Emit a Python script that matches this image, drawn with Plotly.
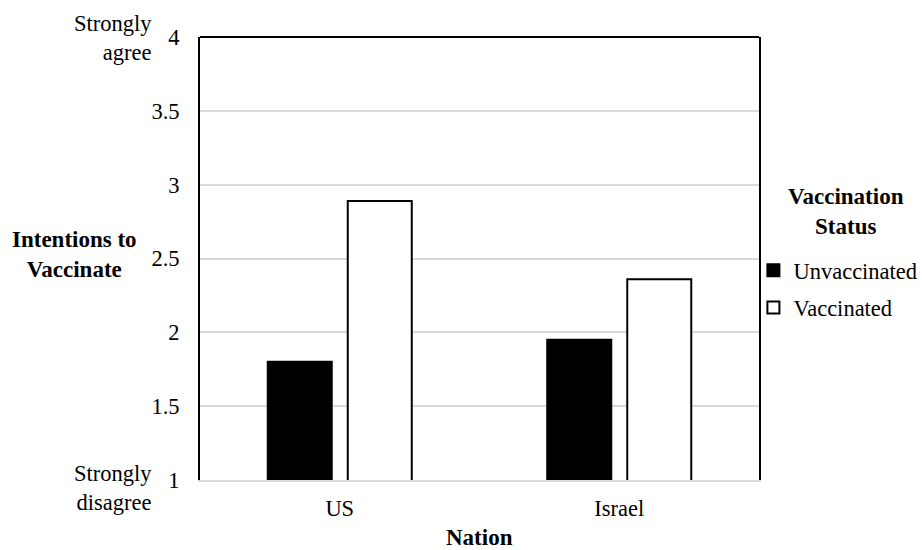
import plotly.graph_objects as go

# Mean intention-to-vaccinate scores by nation and vaccination status
nations = ["US", "Israel"]
unvaccinated = [1.80, 1.95]
vaccinated = [2.89, 2.36]

y_ticks = [1, 1.5, 2, 2.5, 3, 3.5, 4]
y_tick_labels = ["1", "1.5", "2", "2.5", "3", "3.5", "4"]

FONT = "Liberation Serif"
SIZE = 22.5
BOLD_SIZE = 23

fig = go.Figure()
fig.add_trace(go.Bar(
    x=nations, y=unvaccinated, name="Unvaccinated", legendgroup="u",
    marker=dict(color="black", line=dict(color="black", width=2)),
))
fig.add_trace(go.Bar(
    x=nations, y=vaccinated, name="Vaccinated", legendgroup="v",
    marker=dict(color="white", line=dict(color="black", width=2)),
))

fig.update_layout(
    width=922, height=550,
    margin=dict(l=200, r=163, t=37, b=70, autoexpand=False),
    paper_bgcolor="white", plot_bgcolor="white",
    font=dict(family=FONT, size=SIZE, color="black"),
    barmode="group", bargap=0.4275, bargroupgap=0.2,
    showlegend=True,
    legend=dict(
        x=0.99, xanchor="left", y=0.521, yanchor="top",
        bgcolor="rgba(0,0,0,0)",
        font=dict(family=FONT, size=SIZE), tracegroupgap=5, traceorder="grouped",
    ),
)

fig.update_xaxes(
    showline=True, linecolor="#d9d9d9", linewidth=2,
    showgrid=False, ticks="", ticklabelstandoff=7, automargin=False,
    tickfont=dict(family=FONT, size=SIZE),
)
fig.update_yaxes(
    range=[1, 4], tickvals=y_ticks, ticktext=y_tick_labels,
    showgrid=True, gridcolor="#d9d9d9", gridwidth=1.5,
    showline=True, linecolor="black", linewidth=2, mirror=True,
    ticks="", ticklabelstandoff=14, zeroline=False, automargin=False,
    tickfont=dict(family=FONT, size=SIZE),
)

# Top border of the plot frame
fig.add_shape(type="line", xref="paper", yref="paper", x0=0, x1=1, y0=1, y1=1,
              line=dict(color="black", width=2))

# Scale anchors, axis titles and legend heading
fig.add_annotation(text="Strongly<br>agree", xref="paper", yref="y", x=0, y=4,
                   xanchor="right", yanchor="middle", xshift=-46, yshift=-1,
                   showarrow=False, align="right", font=dict(family=FONT, size=SIZE))
fig.add_annotation(text="Strongly<br>disagree", xref="paper", yref="y", x=0, y=1,
                   xanchor="right", yanchor="middle", xshift=-46, yshift=-8,
                   showarrow=False, align="right", font=dict(family=FONT, size=SIZE))
fig.add_annotation(text="<b>Intentions to<br>Vaccinate</b>", xref="paper", yref="paper",
                   x=0, y=0.508, xanchor="center", yanchor="middle", xshift=-126,
                   showarrow=False, align="center", font=dict(family=FONT, size=BOLD_SIZE))
fig.add_annotation(text="<b>Nation</b>", xref="paper", yref="paper",
                   x=0.5, y=0, xanchor="center", yanchor="middle", yshift=-57,
                   showarrow=False, font=dict(family=FONT, size=BOLD_SIZE))
fig.add_annotation(text="<b>Vaccination<br>Status</b>", xref="paper", yref="paper",
                   x=1, y=0.605, xanchor="center", yanchor="middle", xshift=87,
                   showarrow=False, align="center", font=dict(family=FONT, size=BOLD_SIZE))

fig.write_html("out.html")
